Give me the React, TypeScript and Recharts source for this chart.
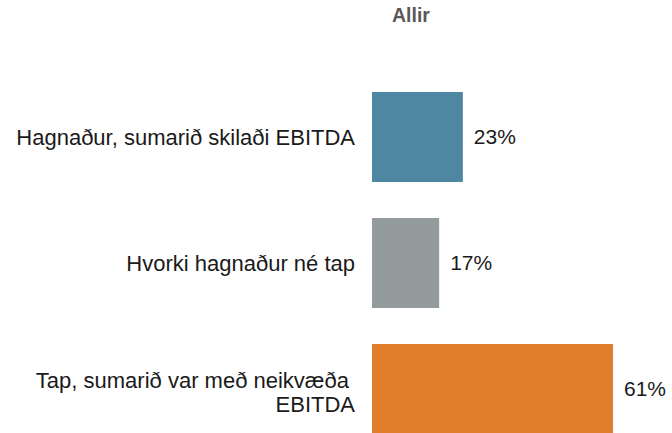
import { BarChart, Bar, XAxis, YAxis, Cell, LabelList } from 'recharts';

const categories = ['Hagnaður, sumarið skilaði EBITDA', 'Hvorki hagnaður né tap', 'Tap, sumarið var með neikvæða |EBITDA'];
const values = [23, 17, 61];
const colors = ['#4e87a1', '#949b9c', '#e07e2b'];

const data = categories.map((name, i) => ({ name, value: values[i] }));

const FONT = '"Liberation Sans", Arial, sans-serif';

function CategoryTick(props: any) {
  const { x, y, payload } = props;
  const lines = String(payload.value).split('|');
  const lineH = 24;
  const startY = y - ((lines.length - 1) * lineH) / 2 + (lines.length > 1 ? 3 : 0);
  return (
    <text x={x} y={startY} textAnchor="end" fontFamily={FONT} fontSize={22} fill="#1a1a1a" dominantBaseline="central" style={{ whiteSpace: 'pre' }}>
      {lines.map((l, i) => (
        <tspan key={i} x={x} dy={i === 0 ? 0 : lineH}>{l}</tspan>
      ))}
    </text>
  );
}

export default function App() {
  return (
    <div style={{ position: 'absolute', left: 0, top: 0, width: 672, height: 433, overflow: 'hidden', background: '#fff' }}>
      <div style={{ position: 'absolute', left: 361, width: 100, top: 4, textAlign: 'center', fontFamily: FONT, fontWeight: 'bold', fontSize: 19.5, color: '#595959' }}>
        Allir
      </div>
      <BarChart
        width={672}
        height={452}
        data={data}
        layout="vertical"
        margin={{ top: 74, right: 59, bottom: 0, left: 0 }}
        barSize={90}
      >
        <XAxis type="number" domain={[0, 61]} hide />
        <YAxis type="category" dataKey="name" width={372} axisLine={false} tickLine={false} tickMargin={11} tick={<CategoryTick />} />
        <Bar dataKey="value" isAnimationActive={false}>
          {data.map((d, i) => (
            <Cell key={d.name} fill={colors[i]} />
          ))}
          <LabelList dataKey="value" position="right" offset={11} formatter={(v: any) => `${v}%`} fontFamily={FONT} fontSize={21} fill="#1a1a1a" />
        </Bar>
      </BarChart>
    </div>
  );
}
